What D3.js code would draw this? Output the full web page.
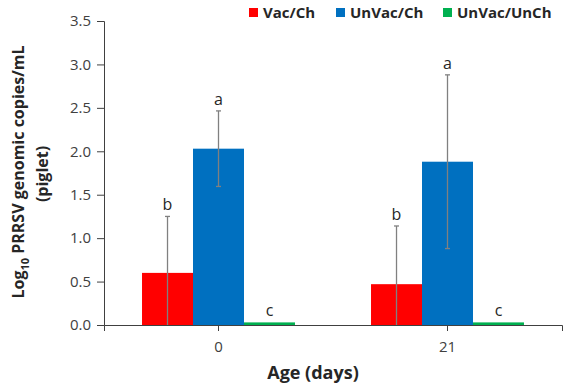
<!DOCTYPE html>
<html>
<head>
<meta charset="utf-8">
<script src="https://cdn.jsdelivr.net/npm/d3@7"></script>
<style>
  body { margin: 0; background: #fff; }
  text { font-family: "Open Sans", sans-serif; }
</style>
</head>
<body>
<svg id="drawing_region"></svg>
<script>
// chart values
const days = ['0', '21'];
const groups = ['Vac/Ch', 'UnVac/Ch', 'UnVac/UnCh'];
const colors = ['#ff0000', '#0070c0', '#00b050'];
const means = [
    [0.60, 2.03, 0.03],
    [0.47, 1.88, 0.03]
];
const errors = [
    [0.65, 0.435, 0],
    [0.67, 1.0, 0]
];
const letters = [
    ['b', 'a', 'c'],
    ['b', 'a', 'c']
];
const yticks = [0, 0.5, 1.0, 1.5, 2.0, 2.5, 3.0, 3.5];

const width = 567, height = 387;
const margin = {left: 104, right: 5, top: 21, bottom: 62};

const svg = d3.select('#drawing_region')
    .attr('width', width)
    .attr('height', height);

const inner_w = width - margin.left - margin.right;
const inner_h = height - margin.top - margin.bottom;

const chart = svg.append('g')
    .attr('transform', `translate(${margin.left}, ${margin.top})`);

const yscale = d3.scaleLinear().domain([0, 3.5]).range([inner_h, 0]);

const xscale = d3.scaleBand()
    .domain(days)
    .range([0, 458])
    .paddingInner(0.332)
    .paddingOuter(0.166);

const x1 = d3.scaleBand()
    .domain(d3.range(groups.length))
    .range([0, xscale.bandwidth()]);

// y axis
const yaxis = d3.axisLeft(yscale)
    .tickValues(yticks)
    .tickFormat(d3.format('.1f'))
    .tickSize(7)
    .tickPadding(6);

const yg = chart.append('g').call(yaxis);
yg.select('.domain').attr('stroke', '#404040');
yg.selectAll('.tick line').attr('stroke', '#404040');
yg.selectAll('.tick text').attr('font-size', 15).attr('fill', '#404040');

// x axis
const xaxis = d3.axisBottom(xscale)
    .tickSize(6)
    .tickPadding(10)
    .tickSizeOuter(6);

const xg = chart.append('g')
    .attr('transform', `translate(0, ${inner_h})`)
    .call(xaxis);
xg.select('.domain').attr('stroke', '#404040');
xg.selectAll('.tick line').attr('stroke', '#404040');
xg.selectAll('.tick text').attr('font-size', 15).attr('fill', '#404040');

// bars
const rows = days.map((d, i) => groups.map((g, j) => ({
    day: d, k: j, v: means[i][j], e: errors[i][j], l: letters[i][j]
})));

const dayg = chart.selectAll('.day')
    .data(rows)
    .enter()
    .append('g')
    .attr('transform', (r, i) => `translate(${xscale(days[i])}, 0)`);

dayg.selectAll('rect')
    .data(r => r)
    .enter()
    .append('rect')
    .attr('x', d => x1(d.k))
    .attr('y', d => yscale(d.v))
    .attr('width', x1.bandwidth())
    .attr('height', d => yscale(0) - yscale(d.v))
    .attr('fill', d => colors[d.k]);

const withErr = dayg.selectAll('.err')
    .data(r => r.filter(d => d.e > 0))
    .enter()
    .append('g');

withErr.append('line')
    .attr('x1', d => x1(d.k) + x1.bandwidth() / 2)
    .attr('x2', d => x1(d.k) + x1.bandwidth() / 2)
    .attr('y1', d => yscale(Math.max(0, d.v - d.e)))
    .attr('y2', d => yscale(d.v + d.e))
    .attr('stroke', '#808080')
    .attr('stroke-width', 1.3);

withErr.append('line')
    .attr('x1', d => x1(d.k) + x1.bandwidth() / 2 - 2.5)
    .attr('x2', d => x1(d.k) + x1.bandwidth() / 2 + 2.5)
    .attr('y1', d => yscale(d.v + d.e))
    .attr('y2', d => yscale(d.v + d.e))
    .attr('stroke', '#808080')
    .attr('stroke-width', 1.3);

withErr.filter(d => d.v - d.e > 0)
    .append('line')
    .attr('x1', d => x1(d.k) + x1.bandwidth() / 2 - 2.5)
    .attr('x2', d => x1(d.k) + x1.bandwidth() / 2 + 2.5)
    .attr('y1', d => yscale(d.v - d.e))
    .attr('y2', d => yscale(d.v - d.e))
    .attr('stroke', '#808080')
    .attr('stroke-width', 1.3);

dayg.selectAll('.lbl')
    .data(r => r)
    .enter()
    .append('text')
    .attr('x', d => x1(d.k) + x1.bandwidth() / 2)
    .attr('y', d => yscale(d.v + d.e) - 6)
    .attr('text-anchor', 'middle')
    .attr('font-size', 16)
    .attr('fill', '#262626')
    .text(d => d.l);

// axis titles
svg.append('text')
    .attr('x', 313)
    .attr('y', 379)
    .attr('text-anchor', 'middle')
    .attr('font-size', 18)
    .attr('font-weight', 'bold')
    .attr('fill', '#262626')
    .text('Age (days)');

const ytitle = svg.append('text')
    .attr('transform', 'translate(24, 172) rotate(-90)')
    .attr('text-anchor', 'middle')
    .attr('font-size', 16)
    .attr('font-weight', 'bold')
    .attr('fill', '#262626');
ytitle.append('tspan').text('Log');
ytitle.append('tspan').attr('font-size', 11).attr('dy', 5).text('10');
ytitle.append('tspan').attr('dy', -5).text(' PRRSV genomic copies/mL');

svg.append('text')
    .attr('transform', 'translate(48, 174) rotate(-90)')
    .attr('text-anchor', 'middle')
    .attr('font-size', 16)
    .attr('font-weight', 'bold')
    .attr('fill', '#262626')
    .text('(piglet)');

// legend
const legx = [249, 336, 443];
const leg = svg.selectAll('.leg')
    .data(groups)
    .enter()
    .append('g')
    .attr('transform', (d, i) => `translate(${legx[i]}, 8)`);
leg.append('rect')
    .attr('width', 9)
    .attr('height', 9)
    .attr('fill', (d, i) => colors[i]);
leg.append('text')
    .attr('x', 14)
    .attr('y', 10)
    .attr('font-size', 15)
    .attr('font-weight', 'bold')
    .attr('fill', '#262626')
    .text(d => d);
</script>
</body>
</html>
